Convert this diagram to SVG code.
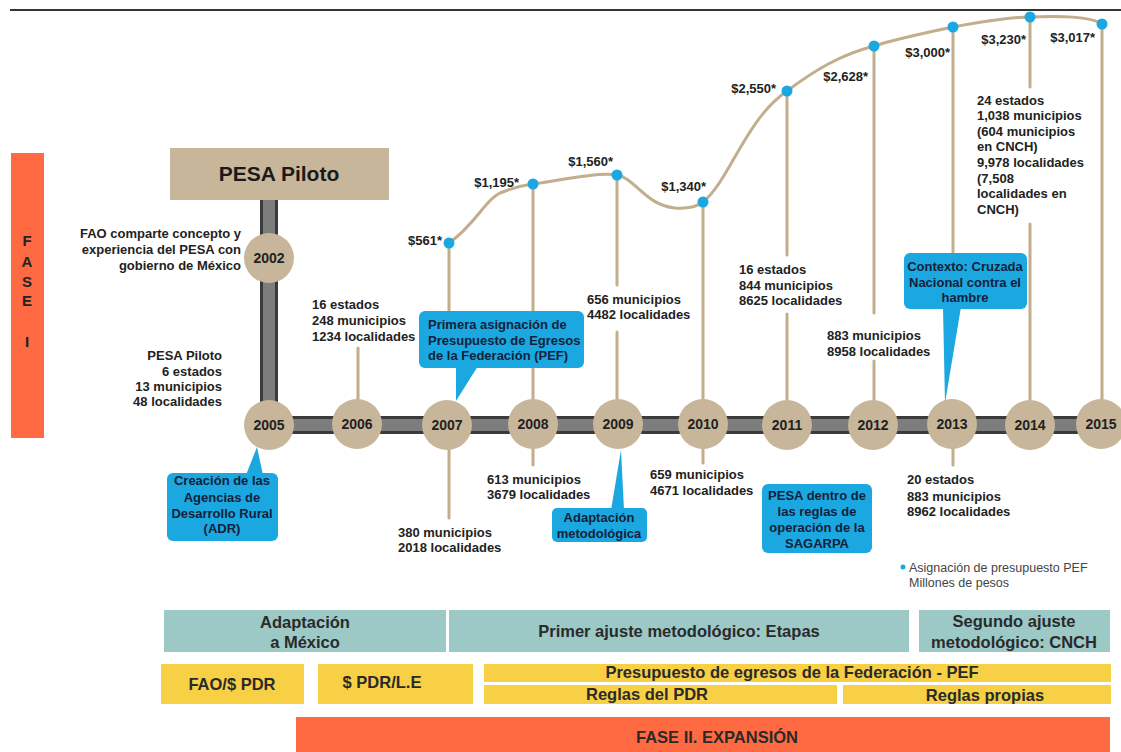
<svg xmlns="http://www.w3.org/2000/svg" width="1121" height="752" viewBox="0 0 1121 752">
<style>
  text { font-family: "Liberation Sans", Arial, sans-serif; }
  .t { font-size: 13px; font-weight: bold; fill: #222; }
  .c { font-size: 13px; font-weight: bold; fill: #14213a; }
  .yr { font-size: 14px; font-weight: bold; fill: #222; text-anchor: middle; }
  .b { font-size: 16.5px; font-weight: bold; fill: #2a2a2a; text-anchor: middle; }
  .node { fill: #C8B69A; }
  .stem { stroke: #C2AD8D; stroke-width: 3; stroke-linecap: round; fill: none; }
  .dot { fill: #1BA8E0; }
  .call { fill: #1BA8E0; }
  .teal { fill: #9CC8C5; }
  .yel { fill: #F7D046; }
  .org { fill: #FF6A42; }
</style>

<line x1="10" y1="10" x2="1121" y2="10" stroke="#333" stroke-width="2"/>

<g id="fase1">
  <rect x="11" y="153" width="33" height="285" class="org"/>
  <g class="t" style="font-size:15px" text-anchor="middle">
    <text x="27" y="246">F</text>
    <text x="27" y="267">A</text>
    <text x="27" y="287">S</text>
    <text x="27" y="306">E</text>
    <text x="27" y="347">I</text>
  </g>
</g>

<g id="connectors">
  <!-- timeline bars -->
  <rect x="260" y="200" width="18" height="225" fill="#3b3b3b"/>
  <rect x="269" y="416" width="852" height="18" fill="#3b3b3b"/>
  <rect x="263" y="200" width="12" height="225" fill="#7d7d7d"/>
  <rect x="263" y="419" width="858" height="12" fill="#7d7d7d"/>
  <!-- budget curve -->
  <path class="stem" d="M449,243 C475,225 485,200 500,193 C515,187 525,185 533,184 C560,180 600,172 617,175 C635,178 645,205 675,208 C690,209 698,206 703,202 C730,180 745,120 787,91 C815,70 840,55 874,46 C900,38 930,32 953,27 C980,22 1010,17 1030,17 C1060,16 1090,16 1102,24"/>
  <!-- stems -->
  <line class="stem" x1="358" y1="348" x2="358" y2="400"/>
  <line class="stem" x1="449" y1="243" x2="449" y2="330"/>
  <line class="stem" x1="449" y1="450" x2="449" y2="518"/>
  <line class="stem" x1="533" y1="184" x2="533" y2="400"/>
  <line class="stem" x1="533" y1="449" x2="533" y2="465"/>
  <line class="stem" x1="617" y1="175" x2="617" y2="285"/>
  <line class="stem" x1="617" y1="332" x2="617" y2="400"/>
  <line class="stem" x1="703" y1="202" x2="703" y2="400"/>
  <line class="stem" x1="703" y1="449" x2="703" y2="463"/>
  <line class="stem" x1="787" y1="91" x2="787" y2="255"/>
  <line class="stem" x1="787" y1="314" x2="787" y2="400"/>
  <line class="stem" x1="874" y1="46" x2="874" y2="313"/>
  <line class="stem" x1="874" y1="361" x2="874" y2="400"/>
  <line class="stem" x1="953" y1="27" x2="953" y2="260"/>
  <line class="stem" x1="953" y1="449" x2="953" y2="465"/>
  <line class="stem" x1="1030" y1="17" x2="1030" y2="87"/>
  <line class="stem" x1="1030" y1="224" x2="1030" y2="400"/>
  <line class="stem" x1="1102" y1="24" x2="1102" y2="400"/>
</g>

<g id="budget">
  <circle class="dot" cx="449" cy="243" r="5.5"/>
  <circle class="dot" cx="533" cy="184" r="5.5"/>
  <circle class="dot" cx="617" cy="175" r="5.5"/>
  <circle class="dot" cx="703" cy="202" r="5.5"/>
  <circle class="dot" cx="787" cy="91" r="5.5"/>
  <circle class="dot" cx="874" cy="46" r="5.5"/>
  <circle class="dot" cx="953" cy="27" r="5.5"/>
  <circle class="dot" cx="1030" cy="17" r="5.5"/>
  <circle class="dot" cx="1102" cy="24" r="5.5"/>
  <g class="t" text-anchor="end">
    <text x="442" y="245">$561*</text>
    <text x="519" y="187">$1,195*</text>
    <text x="613" y="166">$1,560*</text>
    <text x="706" y="191">$1,340*</text>
    <text x="776" y="93">$2,550*</text>
    <text x="868" y="81">$2,628*</text>
    <text x="950" y="57">$3,000*</text>
    <text x="1026" y="44">$3,230*</text>
    <text x="1095" y="42">$3,017*</text>
  </g>
</g>

<g id="pesa-piloto">
  <rect x="170" y="148" width="219" height="52" fill="#C8B69A"/>
  <text x="279" y="181" text-anchor="middle" style="font-size:21px;font-weight:bold;fill:#1a1a1a">PESA Piloto</text>
</g>

<g id="y2002">
  <circle class="node" cx="269" cy="258" r="25"/>
  <text class="yr" x="269" y="263">2002</text>
  <g class="t" text-anchor="end">
    <text x="241" y="238">FAO comparte concepto y</text>
    <text x="241" y="254">experiencia del PESA con</text>
    <text x="241" y="270">gobierno de México</text>
  </g>
</g>

<g id="y2005">
  <circle class="node" cx="269" cy="425" r="25"/>
  <text class="yr" x="269" y="430">2005</text>
  <g class="t" text-anchor="end">
    <text x="222" y="360">PESA Piloto</text>
    <text x="222" y="376">6 estados</text>
    <text x="222" y="391">13 municipios</text>
    <text x="222" y="406">48 localidades</text>
  </g>
</g>

<g id="y2006">
  <circle class="node" cx="357" cy="424" r="25"/>
  <text class="yr" x="357" y="429">2006</text>
  <g class="t">
    <text x="312" y="309">16 estados</text>
    <text x="312" y="325">248 municipios</text>
    <text x="312" y="341">1234 localidades</text>
  </g>
</g>

<g id="y2007">
  <circle class="node" cx="447" cy="425" r="25"/>
  <text class="yr" x="447" y="430">2007</text>
  <g class="t">
    <text x="398" y="537">380 municipios</text>
    <text x="398" y="552">2018 localidades</text>
  </g>
</g>

<g id="y2008">
  <circle class="node" cx="533" cy="424" r="25"/>
  <text class="yr" x="533" y="429">2008</text>
  <g class="t">
    <text x="487" y="484">613 municipios</text>
    <text x="487" y="499">3679 localidades</text>
  </g>
</g>

<g id="y2009">
  <circle class="node" cx="618" cy="424" r="25"/>
  <text class="yr" x="618" y="429">2009</text>
  <g class="t">
    <text x="587" y="304">656 municipios</text>
    <text x="587" y="319">4482 localidades</text>
  </g>
</g>

<g id="y2010">
  <circle class="node" cx="703" cy="424" r="25"/>
  <text class="yr" x="703" y="429">2010</text>
  <g class="t">
    <text x="650" y="479">659 municipios</text>
    <text x="650" y="495">4671 localidades</text>
  </g>
</g>

<g id="y2011">
  <circle class="node" cx="787" cy="425" r="25"/>
  <text class="yr" x="787" y="430">2011</text>
  <g class="t">
    <text x="739" y="274">16 estados</text>
    <text x="739" y="290">844 municipios</text>
    <text x="739" y="305">8625 localidades</text>
  </g>
</g>

<g id="y2012">
  <circle class="node" cx="873" cy="425" r="25"/>
  <text class="yr" x="873" y="430">2012</text>
  <g class="t">
    <text x="827" y="340">883 municipios</text>
    <text x="827" y="356">8958 localidades</text>
  </g>
</g>

<g id="y2013">
  <circle class="node" cx="952" cy="424" r="25"/>
  <text class="yr" x="952" y="429">2013</text>
  <g class="t">
    <text x="907" y="484">20 estados</text>
    <text x="907" y="501">883 municipios</text>
    <text x="907" y="516">8962 localidades</text>
  </g>
</g>

<g id="y2014">
  <circle class="node" cx="1030" cy="425" r="25"/>
  <text class="yr" x="1030" y="430">2014</text>
  <g class="t">
    <text x="977" y="105">24 estados</text>
    <text x="977" y="120">1,038 municipios</text>
    <text x="977" y="136">(604 municipios</text>
    <text x="977" y="151">en CNCH)</text>
    <text x="977" y="167">9,978 localidades</text>
    <text x="977" y="183">(7,508</text>
    <text x="977" y="198">localidades en</text>
    <text x="977" y="214">CNCH)</text>
  </g>
</g>

<g id="y2015">
  <circle class="node" cx="1101" cy="424" r="25"/>
  <text class="yr" x="1101" y="429">2015</text>
</g>

<g id="callout-adr">
  <path class="call" d="M246,475 L257,447 L263,475 Z"/>
  <rect class="call" x="167" y="473" width="111" height="68" rx="6"/>
  <g class="c" text-anchor="middle">
    <text x="222" y="485">Creación de las</text>
    <text x="222" y="502">Agencias de</text>
    <text x="222" y="518">Desarrollo Rural</text>
    <text x="222" y="533">(ADR)</text>
  </g>
</g>

<g id="callout-pef">
  <path class="call" d="M456,366 L456,401 L478,366 Z"/>
  <rect class="call" x="419" y="311" width="165" height="57" rx="6"/>
  <g class="c">
    <text x="428" y="329">Primera asignación de</text>
    <text x="428" y="345">Presupuesto de Egresos</text>
    <text x="428" y="360">de la Federación (PEF)</text>
  </g>
</g>

<g id="callout-adaptacion">
  <path class="call" d="M611,510 L621,450 L624,510 Z"/>
  <rect class="call" x="552" y="508" width="95" height="34" rx="5"/>
  <g class="c" text-anchor="middle">
    <text x="599" y="522">Adaptación</text>
    <text x="599" y="538">metodológica</text>
  </g>
</g>

<g id="callout-sagarpa">
  <rect class="call" x="762" y="484" width="110" height="69" rx="6"/>
  <g class="c" text-anchor="middle">
    <text x="817" y="500">PESA dentro de</text>
    <text x="817" y="516">las reglas de</text>
    <text x="817" y="532">operación de la</text>
    <text x="817" y="548">SAGARPA</text>
  </g>
</g>

<g id="callout-cnch">
  <path class="call" d="M943,307 L945,403 L961,307 Z"/>
  <rect class="call" x="904" y="253" width="123" height="56" rx="6"/>
  <g class="c" text-anchor="middle">
    <text x="965" y="271">Contexto: Cruzada</text>
    <text x="965" y="287">Nacional contra el</text>
    <text x="965" y="302">hambre</text>
  </g>
</g>

<g id="legend">
  <circle class="dot" cx="903" cy="567" r="2.5"/>
  <text x="909" y="572" style="font-size:12.5px;fill:#444">Asignación de presupuesto PEF</text>
  <text x="909" y="587" style="font-size:12.5px;fill:#444">Millones de pesos</text>
</g>

<g id="etapas">
  <rect class="teal" x="164" y="610" width="282" height="42"/>
  <text class="b" x="305" y="628">Adaptación</text>
  <text class="b" x="305" y="648">a México</text>
  <rect class="teal" x="449" y="610" width="460" height="42"/>
  <text class="b" x="679" y="637">Primer ajuste metodológico: Etapas</text>
  <rect class="teal" x="919" y="610" width="191" height="42"/>
  <text class="b" x="1014" y="627">Segundo ajuste</text>
  <text class="b" x="1014" y="648">metodológico: CNCH</text>
</g>

<g id="financiamiento">
  <rect class="yel" x="161" y="664" width="143" height="40"/>
  <text class="b" x="232" y="690">FAO/$ PDR</text>
  <rect class="yel" x="318" y="664" width="155" height="40"/>
  <text class="b" x="382" y="688">$ PDR/L.E</text>
  <rect class="yel" x="484" y="664" width="627" height="18"/>
  <text class="b" x="792" y="678">Presupuesto de egresos de la Federación - PEF</text>
  <rect class="yel" x="484" y="685" width="353" height="19"/>
  <text class="b" x="647" y="700">Reglas del PDR</text>
  <rect class="yel" x="843" y="685" width="268" height="19"/>
  <text class="b" x="985" y="701">Reglas propias</text>
</g>

<g id="fase2">
  <rect class="org" x="296" y="717" width="814" height="35"/>
  <text class="b" x="717" y="743">FASE II. EXPANSIÓN</text>
</g>
</svg>
